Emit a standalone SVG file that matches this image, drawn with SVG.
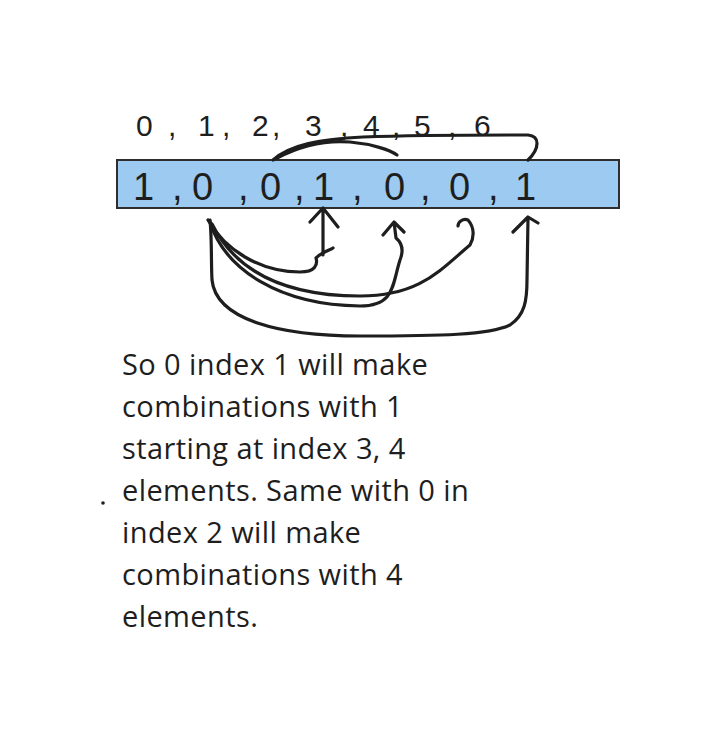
<svg xmlns="http://www.w3.org/2000/svg" width="719" height="754" viewBox="0 0 719 754">
<style>
.hand{font-family:"Liberation Sans","DejaVu Sans",sans-serif;fill:#1e1e1e}
.note{font-family:"Open Sans","Liberation Sans",sans-serif;font-size:29px;letter-spacing:0.4px;fill:#1e1e1e}
.ink{fill:none;stroke:#1e1e1e;stroke-width:3.2;stroke-linecap:round;stroke-linejoin:round}
</style>
<rect width="719" height="754" fill="#ffffff"/>
<g id="indices">
<text class="hand" font-size="30" y="136"><tspan x="136">0</tspan><tspan x="168">,</tspan><tspan x="198">1</tspan><tspan x="222">,</tspan><tspan x="252">2</tspan><tspan x="272">,</tspan><tspan x="305">3</tspan><tspan x="340">,</tspan><tspan x="363">4</tspan><tspan x="392">,</tspan><tspan x="414">5</tspan><tspan x="448">,</tspan><tspan x="474">6</tspan></text>
</g>
<g id="array">
<rect x="117" y="160" width="502" height="48" fill="#9ccaf0" stroke="#2d2d2d" stroke-width="2"/>
<text class="hand" font-size="38" y="200"><tspan x="133">1</tspan><tspan x="172">,</tspan><tspan x="192">0</tspan><tspan x="238">,</tspan><tspan x="260">0</tspan><tspan x="294">,</tspan><tspan x="313">1</tspan><tspan x="352">,</tspan><tspan x="384">0</tspan><tspan x="420">,</tspan><tspan x="449">0</tspan><tspan x="488">,</tspan><tspan x="515">1</tspan></text>
</g>
<g id="connectors">
<path class="ink" d="M273,160 C290,145 320,139 363,137 C420,135 480,135 528,135 C540,136 540,148 528,160"/>
<path class="ink" d="M277,158 C300,146 325,140 350,142 C372,144 390,150 397,155"/>
<path class="ink" d="M208,220 C225,250 260,272 300,272 C315,272 318,265 316,258 C322,252 330,250 333,248"/>
<path class="ink" d="M323,255 L323,209 M310,222 L323,208 L338,227"/>
<path class="ink" d="M210,222 C225,270 280,305 360,306 C395,306 392,285 400,260 C404,250 402,243 396,238 L394,222 M383,235 L394,222 L404,232"/>
<path class="ink" d="M212,224 C240,280 300,296 360,296 C420,296 440,270 470,245 C474,238 475,228 468,220 C463,218 458,222 458,226"/>
<path class="ink" d="M210,220 C212,240 211,262 212,280 C216,320 280,336 360,336 C440,336 490,335 510,325 C525,315 527,300 527,280 L528,218 M513,232 L528,217 L538,223"/>
</g>
<g id="note">
<text class="note" x="122" y="375">So 0 index 1 will make</text>
<text class="note" x="122" y="417">combinations with 1</text>
<text class="note" x="122" y="459">starting at index 3, 4</text>
<text class="note" x="122" y="501">elements. Same with 0 in</text>
<text class="note" x="122" y="543">index 2 will make</text>
<text class="note" x="122" y="585">combinations with 4</text>
<text class="note" x="122" y="627">elements.</text>
<circle cx="103" cy="503" r="1.8" fill="#1e1e1e"/>
</g>
</svg>
